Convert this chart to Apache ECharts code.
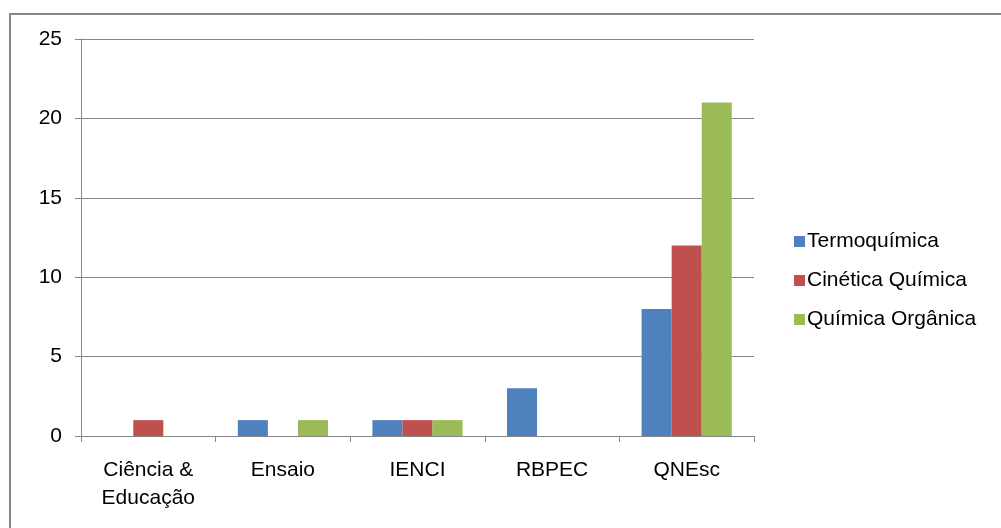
<!DOCTYPE html>
<html>
<head>
<meta charset="utf-8">
<script src="https://cdn.jsdelivr.net/npm/echarts@6/dist/echarts.min.js"></script>
<style>
  html, body { margin: 0; padding: 0; background: #fff; }
  #chart { width: 1001px; height: 528px; }
</style>
</head>
<body>
<div id="chart"></div>
<script>
// dados do gráfico
const categories = ['Ciência &\nEducação', 'Ensaio', 'IENCI', 'RBPEC', 'QNEsc']
const termoquimica = [0, 1, 1, 3, 8]
const cineticaQuimica = [1, 0, 1, 0, 12]
const quimicaOrganica = [0, 1, 1, 0, 21]
const seriesNames = ['Termoquímica', 'Cinética Química', 'Química Orgânica']

const chart = echarts.init(document.getElementById('chart'))

const font = 'Liberation Sans, Arial, sans-serif'
const gray = '#868686'

const makeSeries = (name, data, color) => ({
  name: name,
  type: 'bar',
  data: data,
  barGap: 0,
  barCategoryGap: '33%',
  itemStyle: { color: color },
  animation: false
})

chart.setOption({
  animation: false,
  graphic: [
    {
      type: 'rect',
      shape: { x: 10, y: 14, width: 1100, height: 700 },
      style: { fill: 'none', stroke: gray, lineWidth: 2 }
    }
  ],
  legend: {
    orient: 'vertical',
    left: 789,
    top: 226,
    itemWidth: 11,
    itemHeight: 11,
    itemGap: 18,
    icon: 'rect',
    textStyle: { fontFamily: font, fontSize: 21, color: '#000', lineHeight: 21, padding: [0, 0, 0, -3] },
    data: seriesNames
  },
  grid: {
    left: 81,
    top: 39,
    width: 673,
    height: 397,
    containLabel: false
  },
  xAxis: {
    type: 'category',
    data: categories,
    axisLine: { lineStyle: { color: gray, width: 1 } },
    axisTick: { show: true, length: 6, lineStyle: { color: gray } },
    axisLabel: {
      fontFamily: font,
      fontSize: 21,
      color: '#000',
      lineHeight: 28,
      margin: 20,
      interval: 0
    },
    splitLine: { show: false }
  },
  yAxis: {
    type: 'value',
    min: 0,
    max: 25,
    interval: 5,
    axisLine: { show: true, lineStyle: { color: gray, width: 1 } },
    axisTick: { show: true, length: 6, lineStyle: { color: gray } },
    axisLabel: { fontFamily: font, fontSize: 21, color: '#000', margin: 19 },
    splitLine: { show: true, lineStyle: { color: gray, width: 1 } }
  },
  series: [
    makeSeries(seriesNames[0], termoquimica, '#4F81BD'),
    makeSeries(seriesNames[1], cineticaQuimica, '#C0504D'),
    makeSeries(seriesNames[2], quimicaOrganica, '#9BBB59')
  ]
})
</script>
</body>
</html>
